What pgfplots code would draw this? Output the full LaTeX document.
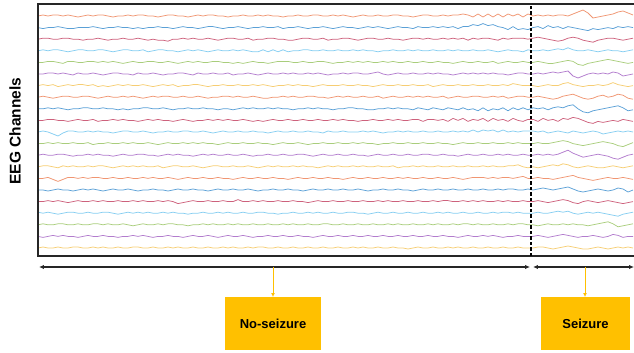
\documentclass[border=0pt]{standalone}
\usepackage{pgfplots}
\usepackage{pgfplotstable}
\pgfplotsset{compat=1.18}
\usetikzlibrary{arrows.meta}
\usepackage{fontspec}
\setmainfont{Liberation Sans}
\definecolor{eegA}{HTML}{EE8A62}
\definecolor{eegB}{HTML}{4896D2}
\definecolor{eegC}{HTML}{C8506E}
\definecolor{eegD}{HTML}{78C8F0}
\definecolor{eegE}{HTML}{A0C86E}
\definecolor{eegF}{HTML}{AA6EC8}
\definecolor{eegG}{HTML}{F5C864}
\definecolor{gold}{HTML}{FFC000}
\pgfplotscreateplotcyclelist{eeg}{{eegA},{eegB},{eegC},{eegD},{eegE},{eegF},{eegG}}
% one row per EEG channel (top to bottom), samples every 5 px, deviation in px
\pgfplotstableread[header=false]{
0 1 0 1 1 0 1 0 -1 0  1 0 1 1 0 -1 0 0 1 0  1 1 0 0 -1 0 1 1 0 0  -1 0 1 0 1 1 0 0 -1 0  0 1 0 0 1 0 1 0 0 -1  0 0 1 0 0 1 1 0 0 1  0 1 0 -1 0 1 0 0 1 0  0 1 1 0 0 -1 0 1 1 0  0 1 0 1 1 2 1 -1 2 -1  2 -1 2 -1 2 0 2 -1 2  0 1 0 1 0 1 1 0 2 4  6 3 -2 -1 0 1 2 4 5 3 1
0 -1 0 0 1 0 -1 -1 0 0  0 1 0 -1 0 0 1 0 0 -1  0 -1 0 0 1 0 0 -1 0 1  0 0 -1 0 1 1 0 -1 0 0  1 0 -1 0 0 1 0 0 1 -1  0 0 1 0 -1 0 0 1 0 -1  0 1 0 0 -1 0 1 0 1 0  -1 0 1 0 0 -1 1 0 0 1  0 1 0 1 -1 1 1 3 2 4  2 3 1 0 -2 1 -2 -1 -2  0 1 -1 2 0 1 -1 1 0 -1  -2 -3 -1 -2 -1 0 -1 1 0 1 0
0 1 1 0 0 1 1 0 0 -1  0 0 1 0 -1 0 0 1 0 0  1 0 -1 0 -1 -1 -2 0 0 1  0 1 0 0 1 0 -1 0 1 1  0 0 1 -1 0 0 1 1 0 0  -1 -1 0 1 1 0 0 1 -1 0  0 1 1 0 -1 0 1 1 0 0  1 0 0 -1 0 1 1 0 1 0  0 1 0 1 0 1 -1 1 0 1  1 0 -1 1 0 1 1 1 0  1 2 1 0 -1 -2 -1 1 2 1  -1 -2 -3 -1 0 1 1 0 -1 0 1
0 1 0 1 1 0 -1 0 1 1  0 0 1 1 0 -1 0 1 1 0  0 1 -1 0 1 1 0 0 -1 0  1 0 1 0 -1 0 1 0 0 1  0 1 0 -1 -1 1 -1 1 -1 1  -1 0 0 1 1 0 0 1 0 0  1 0 0 1 0 1 0 0 -1 0  0 1 0 0 1 0 1 0 0 1  0 0 1 0 1 0 0 1 0 0  1 0 -1 0 1 0 0 -1 1  0 0 1 0 1 2 1 3 1 0  0 1 0 -1 0 1 0 0 -1 0 1
0 0 1 1 0 -1 1 1 0 0  1 1 0 1 0 1 0 -1 0 1  0 0 1 1 0 0 1 0 -1 0  1 0 1 0 0 1 1 0 0 -1  0 -1 0 1 0 0 -1 0 1 1  1 0 0 1 0 0 1 1 0 -1  0 0 1 0 1 0 1 0 0 1  0 1 0 0 1 0 0 1 0 0  1 0 0 -1 0 1 0 0 1 0  0 1 -1 0 1 0 0 1 0  0 1 0 -1 -1 0 1 2 1 -2  -3 -1 0 1 2 3 2 1 0 -1 0
0 0 1 1 0 1 0 -1 1 0  0 1 0 -1 0 1 1 0 0 -1  1 0 0 1 0 -1 0 0 1 1  0 -1 1 0 0 1 0 0 1 -1  0 0 1 0 -1 0 1 0 0 1  0 1 0 0 1 0 1 0 -1 0  0 1 0 1 1 0 0 1 2 0  -1 0 1 0 0 1 0 0 1 0  1 0 0 -1 0 1 0 1 0 1  0 1 0 0 -1 0 1 1 0  0 1 0 1 2 1 2 3 -2 -4  -2 0 1 0 1 0 2 1 -2 -1 0
0 1 0 1 -1 0 1 0 1 1  0 1 -1 0 -1 0 1 0 1 0  0 1 0 -1 0 1 0 1 -1 0  0 1 1 0 -1 0 0 1 0 0  1 0 0 1 0 1 0 -1 0 0  1 0 1 0 0 -1 0 1 0 0  0 1 0 0 1 0 0 -1 0 1  0 0 1 0 0 1 0 0 1 -1  0 1 0 0 1 0 0 1 0 0  1 0 0 1 0 2 1 0 0  0 -1 0 1 0 0 2 3 1 0  -1 0 0 1 0 1 3 1 0 -1 0
0 1 0 -1 0 1 1 0 0 1  1 0 -1 0 1 0 0 1 0 1  0 -1 0 1 0 1 1 0 0 1  0 0 1 0 -1 0 0 1 1 0  1 0 0 1 0 -1 -1 0 0 1  0 1 0 0 1 1 0 0 -1 0  1 0 1 0 0 1 0 0 1 -1  0 1 0 0 1 0 1 0 1 0  0 1 -1 0 1 0 0 1 1 0  0 1 0 1 -1 0 1 1 0  0 1 0 -1 -2 -1 1 2 3 1  -1 -2 -1 1 2 0 1 3 2 -1 -2
0 0 1 0 1 0 -1 0 0 1  1 0 0 1 0 0 -1 0 -1 0  0 1 1 0 0 1 0 -1 0 0  1 0 0 1 0 0 -1 0 0 -1  0 1 0 1 0 0 1 0 1 0  0 -1 0 0 1 0 1 0 0 -1  0 0 1 1 0 0 -1 -1 0 0  1 0 1 0 0 -1 1 0 -1 1  0 -1 1 0 -1 1 -1 0 -2 1  -2 0 -1 1 -2 1 -1 1 -1  1 0 1 -1 1 2 1 3 4 0  -3 -4 -2 -1 0 1 2 3 1 -2 -1
0 0 1 1 0 0 -1 0 1 0  0 1 -1 0 0 1 0 1 0 0  -1 0 1 0 1 0 0 -1 0 1  0 -1 0 0 1 0 1 0 1 0  0 1 0 -1 0 -1 0 1 0 0  1 0 0 1 0 0 1 0 0 1  0 1 0 0 -1 0 0 1 0 0  1 0 1 0 0 1 1 -1 1 1  0 1 -1 2 0 2 -1 1 0 2  -1 2 0 1 -1 2 0 -1 1  1 -1 2 0 1 -1 2 1 3 2  0 -2 -3 -1 -2 -1 0 -1 1 0 -1
0 1 0 -2 -4 -1 1 1 0 0  1 0 1 0 0 -1 0 1 1 0  0 1 0 -1 0 0 1 0 0 1  1 0 0 1 0 -1 0 1 0 0  1 0 0 1 0 0 -1 0 1 0  0 1 0 0 1 0 0 -1 1 0  0 1 0 0 0 1 0 1 0 -1  0 0 1 0 1 0 0 1 0 0  1 0 0 1 0 1 0 2 0 2  1 2 0 2 0 1 0 1 1  1 0 1 -1 0 1 0 -1 1 0  -1 0 1 0 -2 -1 0 1 0 1 0
0 0 1 0 1 0 0 1 0 0  1 -1 0 0 1 0 0 1 0 1  0 0 1 0 -1 0 1 0 0 1  0 1 0 1 0 0 -1 0 1 0  0 1 0 0 1 0 0 -1 0 1  0 0 1 0 -1 0 0 1 0 0  1 0 0 1 0 1 0 0 -1 0  0 1 0 0 1 0 0 1 0 0  1 0 0 -1 0 1 0 0 1 0  0 1 0 0 1 0 1 0 0  0 1 0 0 1 2 3 2 0 -1  -2 -1 0 1 2 1 0 -2 -3 -1 1
0 1 0 0 1 1 0 -1 0 0  1 0 1 0 0 -1 0 1 0 0  1 1 0 0 -1 0 1 0 1 0  0 -1 0 1 0 1 0 0 1 0  0 1 0 -1 0 0 1 0 0 1  0 0 1 1 0 -1 0 1 0 0  1 0 0 1 0 0 -1 0 1 0  0 1 0 0 1 0 0 1 1 0  0 1 0 0 -1 0 1 0 0 1  0 0 1 0 1 0 0 1 0  0 1 0 1 0 1 3 5 2 0  -2 -1 0 1 0 -1 -3 -4 -2 0 1
0 1 1 0 -1 1 0 1 0 0  1 0 1 1 0 -1 0 1 0 1  0 1 0 0 1 -1 0 1 1 0  0 1 0 -1 0 1 1 0 0 1  0 0 1 0 -1 0 1 0 1 0  0 1 0 1 0 0 -1 0 1 0  1 0 0 1 0 1 0 0 1 0  0 1 -1 0 0 1 0 1 0 0  1 0 0 1 0 0 1 0 0 1  0 1 0 0 1 1 2 0 -1  0 -1 0 1 2 1 3 2 0 -1  0 1 0 -1 -1 0 1 0 -1 0 1
0 0 1 -1 -3 -1 1 1 0 1  0 1 1 0 0 1 0 0 1 0  0 1 0 1 0 0 1 0 -1 0  1 0 0 1 0 0 1 0 0 -1  0 1 0 0 1 0 0 1 0 0  -1 0 1 0 0 1 0 0 1 0  0 -1 0 1 0 0 1 0 0 1  0 0 1 0 1 0 0 1 0 0  1 0 0 1 0 -1 0 1 1 1  0 1 0 1 1 0 1 2 0  0 1 0 0 -1 0 1 2 3 1  0 -1 -2 -1 0 1 0 0 1 0 -1
0 0 -1 0 1 0 0 -1 0 1  0 1 0 -1 0 1 0 0 1 0  -1 0 0 1 0 0 -1 0 1 0  0 1 0 0 -1 0 1 0 0 1  0 0 1 0 -1 0 0 1 0 0  1 0 0 -1 0 1 0 0 1 0  0 1 0 0 1 0 -1 0 0 1  0 0 1 0 0 -1 0 1 0 0  1 0 0 1 0 0 1 0 0 1  0 0 1 0 1 1 0 0 1  0 1 2 1 0 1 2 3 1 -1  -2 -1 0 1 0 -1 0 2 1 -2 0
0 0 1 0 1 0 -1 0 1 0  0 1 0 1 0 0 1 0 0 1  0 1 0 0 1 0 1 0 -2 -1  0 1 0 0 1 0 0 1 0 0  2 0 0 1 0 1 0 0 1 0  0 1 0 0 -1 0 1 0 0 1  0 0 1 0 0 1 0 0 1 0  1 0 0 1 0 0 1 0 0 1  0 1 1 0 0 1 0 1 0 1  0 0 1 0 1 0 0 1 0  0 1 0 -1 0 1 2 1 -1 -2  0 1 0 -1 0 1 0 -1 -2 -1 0
1 0 1 0 -1 0 1 1 0 0  1 0 0 1 1 0 -1 0 1 0  1 0 1 0 0 1 0 1 0 0  -1 0 0 1 0 0 1 0 1 0  0 1 0 0 1 1 0 0 -1 0  0 1 0 0 1 0 1 0 0 1  0 0 1 1 0 0 -1 0 1 0  0 1 0 0 1 0 0 1 0 0  1 0 1 0 0 1 0 0 1 0  0 1 0 1 1 0 1 0 0  0 1 0 0 1 2 1 2 0 -1  0 1 0 1 0 -1 -2 -3 -1 0 1
0 1 0 0 1 1 0 0 1 0  0 1 1 0 1 0 0 1 0 -1  0 1 0 0 1 0 1 1 0 0  -1 0 0 1 0 1 0 0 1 0  1 0 0 1 0 0 1 0 0 1  0 1 0 0 1 0 0 1 1 0  0 1 0 0 1 0 0 1 0 0  1 0 1 0 0 1 0 0 1 0  1 0 0 1 0 1 1 0 1 0  0 1 0 0 1 0 1 1 0  0 -1 0 1 0 0 1 0 1 0  0 -1 0 1 2 3 1 -2 -1 0 1
0 -1 0 1 0 1 0 0 -1 0  1 0 0 1 0 0 -1 0 0 1  0 1 0 -1 0 0 1 0 0 -1  0 1 0 0 1 0 -1 0 1 0  0 1 0 -1 0 0 1 0 0 1  0 0 1 0 0 -1 0 1 0 0  1 0 0 1 0 0 1 0 0 1  0 0 1 0 0 1 0 0 1 0  0 1 0 0 -1 0 1 0 0 1  0 1 0 -1 0 0 1 0 0  0 1 0 -1 0 1 2 1 0 -1  0 0 1 0 -1 0 2 1 -1 0 0
0 1 0 0 1 0 0 1 1 0  0 1 0 1 0 0 1 0 0 1  1 0 0 1 0 0 1 0 1 0  0 1 0 0 1 0 0 1 0 1  0 0 1 0 1 1 0 0 1 0  0 1 0 0 1 0 0 1 0 0  1 0 0 1 0 1 0 0 1 0  0 1 0 0 -1 0 1 0 0 1  0 0 1 0 1 0 0 1 0 0  1 0 0 1 0 0 1 0 0  0 1 1 0 -1 0 1 2 1 0  -1 -1 0 1 0 -1 0 1 0 1 0
}\raw
\pgfplotstabletranspose\eegdata{\raw}
\begin{document}
\begin{tikzpicture}
\begin{axis}[
  at={(0,0)}, anchor=south west,
  scale only axis, width=596bp, height=252bp,
  xmin=0, xmax=596, ymin=0, ymax=252,
  hide axis, clip=false,
  cycle list name=eeg,
  every axis plot/.append style={line width=0.75pt, opacity=0.9, line join=round, no markers},
]
\pgfplotsinvokeforeach{1,...,21}{
  \addplot table[x expr=\coordindex*5, y expr={\thisrowno{#1}+240-(#1-1)*11.6}]{\eegdata};
}
\end{axis}
% frame
\draw[line width=1.8pt, black!85] (600bp,252bp) -- (0,252bp) -- (0,0) -- (600bp,0);
% seizure onset
\draw[line width=1.2pt, dash pattern=on 3.5pt off 2pt] (493bp,0) -- (493bp,252bp);
% time spans
\draw[line width=1.2pt, black!85, {Latex[length=5pt,width=4.5pt]}-{Latex[length=5pt,width=4.5pt]}] (1bp,-11bp) -- (492bp,-11bp);
\draw[line width=1.2pt, black!85, {Latex[length=5pt,width=4.5pt]}-{Latex[length=5pt,width=4.5pt]}] (495bp,-11bp) -- (596bp,-11bp);
% connectors
\draw[gold, line width=1pt, -{Latex[length=4pt,width=4pt]}] (235bp,-11bp) -- (235bp,-41bp);
\draw[gold, line width=1pt, -{Latex[length=4pt,width=4pt]}] (547bp,-11bp) -- (547bp,-41bp);
% boxes
\fill[gold] (187bp,-41bp) rectangle (283bp,-94bp);
\fill[gold] (503bp,-41bp) rectangle (592bp,-94bp);
\node[font=\fontsize{13bp}{15bp}\selectfont\bfseries] at (235bp,-68bp) {No-seizure};
\node[font=\fontsize{13bp}{15bp}\selectfont\bfseries] at (547.5bp,-68bp) {Seizure};
% y label
\node[rotate=90, font=\fontsize{15.5bp}{18bp}\selectfont\bfseries] at (-23bp,125bp) {EEG Channels};
\pgfresetboundingbox
\path[use as bounding box] (-38bp,-97bp) rectangle (596bp,256bp);
\end{tikzpicture}
\end{document}
